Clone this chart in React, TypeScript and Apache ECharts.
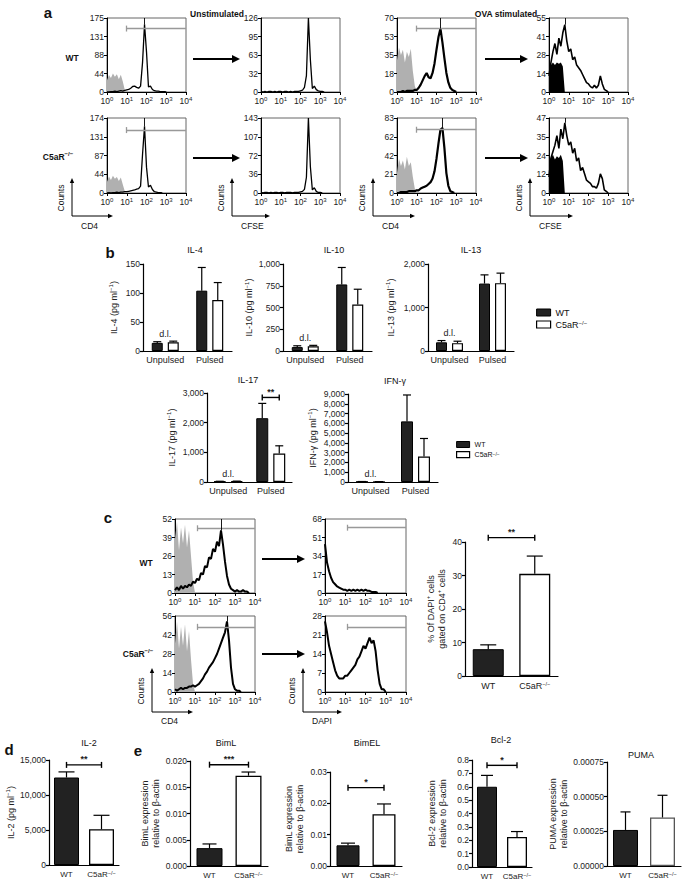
import React, { useEffect, useRef } from 'react';
import * as echarts from 'echarts';

const FONT = '"Liberation Sans", Arial, Helvetica, sans-serif';
const KO = 'C5aR−/−';

// ---------------- Flow histograms (x in decades: 10^0 .. 10^4) ----------------
const histX = [0, 0.1, 0.2, 0.3, 0.4, 0.5, 0.6, 0.7, 0.8, 0.9, 1, 1.1, 1.2, 1.3, 1.4, 1.5, 1.6, 1.7, 1.8, 1.9, 2, 2.1, 2.2, 2.3, 2.4, 2.5, 2.6, 2.7, 2.8, 2.9, 3, 3.1, 3.2, 3.3, 3.4, 3.5, 3.6, 3.7, 3.8, 3.9, 4];
const decadeExp = ['0', '1', '2', '3', '4'];

// panel a – y-axis maxima (tick labels = max/4 steps)
const aMaxRow1 = [175, 126, 70, 55];
const aMaxRow2 = [174, 143, 83, 47];

const a11Iso = [28, 40, 33, 44, 36, 42, 30, 41, 25, 5, 0];
const a11CD4 = [0, 0, 1, 1, 2, 1, 2, 3, 2, 4, 5, 6, 9, 13, 14, 11, 9, 14, 70, 160, 95, 12, 14, 6, 3, 2, 2, 1, 1, 1, 0];
const a12CFSE = [1, 0, 1, 0, 1, 1, 0, 1, 0, 1, 1, 0, 1, 1, 0, 1, 0, 1, 1, 1, 2, 3, 8, 28, 126, 55, 6, 10, 4, 2, 1, 1, 0];
const a13Iso = [30, 42, 35, 40, 28, 38, 33, 41, 20, 6, 0];
const a13CD4 = [0, 0, 0, 1, 0, 1, 1, 1, 1, 2, 2, 4, 7, 11, 15, 18, 14, 13, 18, 27, 40, 52, 60, 47, 32, 18, 9, 4, 2, 1, 0];
const a14CFSE = [12, 22, 30, 36, 28, 40, 34, 44, 50, 38, 30, 32, 24, 26, 20, 18, 16, 13, 10, 7, 6, 4, 3, 5, 3, 5, 12, 6, 2, 1, 0];
const a14Dense = [18, 20, 22, 20, 22, 21, 22, 19, 0];

const a21Iso = [26, 38, 30, 40, 33, 37, 28, 36, 20, 4, 0];
const a21CD4 = [0, 1, 0, 1, 1, 2, 1, 2, 2, 3, 3, 4, 5, 6, 7, 9, 10, 16, 90, 155, 60, 14, 18, 8, 3, 2, 1, 1, 0];
const a22CFSE = [1, 0, 1, 1, 0, 1, 0, 1, 1, 0, 1, 1, 0, 1, 1, 1, 0, 1, 1, 1, 2, 3, 7, 30, 143, 50, 6, 10, 3, 1, 1, 0];
const a23Iso = [22, 38, 30, 36, 26, 40, 30, 34, 18, 5, 0];
const a23CD4 = [0, 0, 1, 1, 1, 1, 2, 2, 2, 2, 3, 3, 5, 6, 7, 8, 10, 12, 16, 24, 38, 55, 70, 72, 50, 22, 8, 2, 1, 0];
const a24CFSE = [10, 22, 26, 30, 36, 28, 40, 34, 44, 36, 30, 32, 25, 28, 20, 22, 14, 16, 12, 8, 7, 6, 4, 4, 3, 6, 12, 9, 2, 1, 0];
const a24Dense = [20, 22, 24, 21, 23, 22, 24, 20, 0];

// gates [start decade, level] and peak marker positions (decades)
const aGates = [[0.97, 150], [0.97, 146], [0.97, 60], [0.97, 70]];
const aPeakX = [1.9, 1.9, 2.2, 2.3, 0.8, 0.8];

// panel c
const cMaxRow1 = [52, 68];
const cMaxRow2 = [56, 28];
const c11Iso = [38, 50, 30, 46, 35, 48, 32, 44, 26, 8, 0];
const c11CD4 = [2, 4, 2, 5, 3, 5, 4, 6, 5, 8, 7, 10, 9, 14, 13, 19, 18, 25, 24, 31, 29, 36, 33, 44, 34, 22, 12, 6, 3, 2, 1, 2, 1, 1, 2, 1, 1, 0];
const c12DAPI = [45, 28, 20, 14, 10, 8, 6, 5, 4, 3, 3, 2, 3, 2, 3, 2, 3, 2, 3, 2, 3, 2, 2, 1, 1, 1, 0];
const c21Iso = [36, 52, 32, 48, 34, 50, 30, 45, 24, 6, 0];
const c21CD4 = [2, 1, 2, 3, 2, 3, 3, 4, 4, 5, 4, 5, 6, 8, 10, 13, 15, 18, 20, 22, 25, 28, 32, 36, 40, 44, 52, 38, 18, 6, 2, 1, 1, 0];
const c22DAPI = [26, 22, 17, 14, 11, 8, 6, 5, 5, 5, 6, 6, 7, 8, 9, 10, 12, 13, 15, 17, 16, 18, 20, 18, 19, 15, 8, 3, 1, 1, 0];
const cGates = [[1.1, 45.5], [1.1, 60], [1.1, 48], [1.1, 24]];
const cPeakX = [2.3, 2.6];

// ---------------- Bar data ----------------
const pulseCats = ['Unpulsed', 'Pulsed'];
const il4WT = [14, 104], il4WTErr = [16, 144], il4KO = [15, 88], il4KOErr = [17, 118];
const il10WT = [45, 765], il10WTErr = [60, 960], il10KO = [55, 535], il10KOErr = [65, 710];
const il13WT = [200, 1550], il13WTErr = [240, 1750], il13KO = [180, 1560], il13KOErr = [225, 1790];
const il17WT = [20, 2150], il17WTErr = [25, 2650], il17KO = [25, 960], il17KOErr = [30, 1220];
const ifnWT = [40, 6200], ifnWTErr = [50, 8900], ifnKO = [30, 2600], ifnKOErr = [40, 4450];
const il17Sig = [2850, '**'];

const genoCats = ['WT', KO];
const dapiPct = [8, 30.5], dapiErr = [9.3, 35.8], dapiSig = [41.3, '**'];
const il2 = [12500, 5100], il2Err = [13300, 7100], il2Sig = [14300, '**'];
const bimL = [0.0034, 0.0172], bimLErr = [0.0042, 0.0179], bimLSig = [0.0193, '***'];
const bimEL = [0.0066, 0.0165], bimELErr = [0.0073, 0.0198], bimELSig = [0.025, '*'];
const bcl2 = [0.6, 0.225], bcl2Err = [0.685, 0.265], bcl2Sig = [0.76, '*'];
const puma = [0.00026, 0.00035], pumaErr = [0.00039, 0.00051];

// ---------------- helpers ----------------
const sup = (extra: any = {}) => ({ s: { fontSize: 6, fontFamily: FONT, verticalAlign: 'top', color: '#222', ...extra } });
const comma = (v: number) => Math.round(v).toString().replace(/\B(?=(\d{3})+(?!\d))/g, ',');
const koFmt = (v: string) => (v === KO ? 'C5aR{s|−/−}' : v);

function buildOption() {
  const grid: any[] = [], xAxis: any[] = [], yAxis: any[] = [], series: any[] = [];

  const addGrid = (g: any, show = false) => {
    grid.push({ left: g.left, top: g.top, width: g.width, height: g.height, show, borderColor: '#666', borderWidth: 1, backgroundColor: 'rgba(0,0,0,0)' });
    return grid.length - 1;
  };

  const hist = (h: any) => {
    const gi = addGrid(h, true);
    xAxis.push({
      gridIndex: gi, type: 'value', min: 0, max: 4, interval: 1,
      axisLine: { show: true, onZero: false, lineStyle: { color: '#000', width: 1 } },
      axisTick: { show: true, length: 3, lineStyle: { color: '#000' } },
      splitLine: { show: false },
      axisLabel: { fontFamily: FONT, fontSize: 8.5, color: '#222', margin: 4, formatter: (v: number) => '10{s|' + decadeExp[Math.round(v)] + '}', rich: sup() },
    });
    yAxis.push({
      gridIndex: gi, type: 'value', min: 0, max: h.max, interval: h.max / 4,
      axisLine: { show: true, lineStyle: { color: '#000', width: 1 } },
      axisTick: { show: true, length: 3, lineStyle: { color: '#000' } },
      splitLine: { show: false },
      axisLabel: { fontFamily: FONT, fontSize: 8.5, color: '#222', margin: 3, formatter: (v: number) => String(Math.round(v)) },
    });
    const pts = (arr: number[]) => arr.map((y, i) => [histX[i], y]);
    if (h.iso) series.push({ type: 'line', xAxisIndex: gi, yAxisIndex: gi, data: pts(h.iso), symbol: 'none', silent: true, z: 1, lineStyle: { width: 0 }, itemStyle: { color: '#b0b0b0' }, areaStyle: { color: '#b0b0b0', opacity: 1 } });
    if (h.dense) series.push({ type: 'line', xAxisIndex: gi, yAxisIndex: gi, data: pts(h.dense), symbol: 'none', silent: true, z: 2, lineStyle: { width: 0 }, itemStyle: { color: '#000' }, areaStyle: { color: '#000', opacity: 1 } });
    const md: any[] = [];
    if (h.gate) {
      const [gx, gy] = h.gate; const d = h.max * 0.04;
      md.push([{ coord: [gx, gy], lineStyle: { color: '#999', width: 1.3, type: 'solid' } }, { coord: [4, gy] }]);
      md.push([{ coord: [gx, gy - d], lineStyle: { color: '#999', width: 1.3, type: 'solid' } }, { coord: [gx, gy + d] }]);
    }
    if (h.peakX !== undefined) {
      const py = h.line[Math.round(h.peakX * 10)];
      md.push([{ coord: [h.peakX, py], lineStyle: { color: '#000', width: 0.9, type: 'solid' } }, { coord: [h.peakX, h.max] }]);
    }
    series.push({
      type: 'line', xAxisIndex: gi, yAxisIndex: gi, data: pts(h.line), symbol: 'none', silent: true, z: 3,
      lineStyle: { color: '#000', width: h.lw || 1.3 }, itemStyle: { color: '#000' },
      markLine: md.length ? { silent: true, symbol: ['none', 'none'], label: { show: false }, lineStyle: { type: 'solid' }, data: md } : undefined,
    });
  };

  const valueAxis = (gi: number, b: any) => ({
    gridIndex: gi, type: 'value', min: 0, max: b.max, interval: b.interval,
    axisLine: { show: true, lineStyle: { color: '#000', width: 1.2 } },
    axisTick: { show: true, length: 3, lineStyle: { color: '#000', width: 1.2 } },
    splitLine: { show: false },
    axisLabel: { fontFamily: FONT, fontSize: 8.5, color: '#222', margin: 3, formatter: b.fmt },
    name: b.yName, nameLocation: 'middle', nameRotate: 90, nameGap: b.nameGap,
    nameTextStyle: { fontFamily: FONT, fontSize: 9, color: '#222', lineHeight: 11, rich: sup() },
  });

  const errSeries = (gi: number, data: any[], offset: number, cap: number) => ({
    type: 'custom', xAxisIndex: gi, yAxisIndex: gi, silent: true, z: 5, data, encode: { x: 0, y: [1, 2] },
    renderItem: (_p: any, api: any) => {
      const c = api.value(0);
      const base = api.coord([c, api.value(1)]);
      const top = api.coord([c, api.value(2)]);
      const x = base[0] + offset;
      return {
        type: 'group', children: [
          { type: 'line', shape: { x1: x, y1: base[1], x2: x, y2: top[1] }, style: { stroke: '#000', lineWidth: 1.2 } },
          { type: 'line', shape: { x1: x - cap, y1: top[1], x2: x + cap, y2: top[1] }, style: { stroke: '#000', lineWidth: 1.2 } },
        ],
      };
    },
  });

  const textSeries = (gi: number, data: any[], text: string, size: number) => ({
    type: 'custom', xAxisIndex: gi, yAxisIndex: gi, silent: true, z: 6, data, encode: { x: 0, y: 1 },
    renderItem: (_p: any, api: any) => {
      const p = api.coord([api.value(0), api.value(1)]);
      return { type: 'text', x: p[0], y: p[1] - 3, style: { text, fontFamily: FONT, fontSize: size, fill: '#222', align: 'center', verticalAlign: 'bottom' } };
    },
  });

  const bracketSeries = (gi: number, data: any[], offA: number, offB: number, text: string) => ({
    type: 'custom', xAxisIndex: gi, yAxisIndex: gi, silent: true, z: 6, data, encode: { x: 0, y: 1 },
    renderItem: (_p: any, api: any) => {
      const pa = api.coord([api.value(0), api.value(1)]);
      const pb = api.coord([api.value(2), api.value(1)]);
      const xa = pa[0] + offA, xb = pb[0] + offB, y = pa[1];
      const st = { stroke: '#000', lineWidth: 1.4 };
      return {
        type: 'group', children: [
          { type: 'line', shape: { x1: xa, y1: y, x2: xb, y2: y }, style: st },
          { type: 'line', shape: { x1: xa, y1: y - 3, x2: xa, y2: y + 3 }, style: st },
          { type: 'line', shape: { x1: xb, y1: y - 3, x2: xb, y2: y + 3 }, style: st },
          { type: 'text', x: (xa + xb) / 2, y: y - 1, style: { text, fontFamily: FONT, fontSize: 9, fontWeight: 'bold', fill: '#222', align: 'center', verticalAlign: 'bottom' } },
        ],
      };
    },
  });

  const barGroup = (b: any) => {
    const gi = addGrid(b);
    xAxis.push({
      gridIndex: gi, type: 'category', data: pulseCats,
      axisLine: { lineStyle: { color: '#000', width: 1.2 } },
      axisTick: { alignWithLabel: true, interval: 0, length: 3, lineStyle: { color: '#000', width: 1.2 } },
      axisLabel: { interval: 0, hideOverlap: false, fontFamily: FONT, fontSize: 9, color: '#222', margin: 4 },
    });
    yAxis.push(valueAxis(gi, b));
    const pct = (b.gap / b.bw) * 100 + '%';
    const off = (b.bw + b.gap) / 2;
    series.push({ type: 'bar', name: 'WT', xAxisIndex: gi, yAxisIndex: gi, data: b.wt, barWidth: b.bw, barGap: pct, silent: true, z: 2, itemStyle: { color: '#222', borderColor: '#000', borderWidth: 1 } });
    series.push({ type: 'bar', name: KO, xAxisIndex: gi, yAxisIndex: gi, data: b.ko, barWidth: b.bw, barGap: pct, silent: true, z: 2, itemStyle: { color: '#fff', borderColor: '#000', borderWidth: 1.2 } });
    series.push(errSeries(gi, b.wt.map((v: number, i: number) => [i, v, b.wtErr[i]]), -off, b.cap));
    series.push(errSeries(gi, b.ko.map((v: number, i: number) => [i, v, b.koErr[i]]), off, b.cap));
    series.push(textSeries(gi, [[0, Math.max(b.wtErr[0], b.koErr[0])]], 'd.l.', 9));
    if (b.sig) series.push(bracketSeries(gi, [[1, b.sig[0], 1]], -off, off, b.sig[1]));
  };

  const barSingle = (b: any) => {
    const gi = addGrid(b);
    xAxis.push({
      gridIndex: gi, type: 'category', data: genoCats,
      axisLine: { lineStyle: { color: '#000', width: 1.2 } },
      axisTick: { alignWithLabel: true, interval: 0, length: 3, lineStyle: { color: '#000', width: 1.2 } },
      axisLabel: { interval: 0, hideOverlap: false, fontFamily: FONT, fontSize: b.catSize || 8, color: '#222', margin: 5, formatter: koFmt, rich: sup({ fontSize: 5.5 }) },
    });
    yAxis.push(valueAxis(gi, b));
    series.push({
      type: 'bar', xAxisIndex: gi, yAxisIndex: gi, barWidth: b.bw, silent: true, z: 2,
      data: b.vals.map((v: number, i: number) => ({ value: v, itemStyle: i === 0 ? { color: '#222', borderColor: '#000', borderWidth: 1 } : { color: '#fff', borderColor: b.koBorder || '#000', borderWidth: 1.3 } })),
    });
    series.push(errSeries(gi, b.vals.map((v: number, i: number) => [i, v, b.errs[i]]), 0, b.cap));
    if (b.sig) series.push(bracketSeries(gi, [[0, b.sig[0], 1]], 0, 0, b.sig[1]));
  };

  // ---- panel a ----
  const aCols = [107, 261, 397, 549];
  const aRows = [[18, 74], [118, 75]];
  hist({ left: aCols[0], top: aRows[0][0], width: 79, height: aRows[0][1], max: aMaxRow1[0], iso: a11Iso, line: a11CD4, gate: aGates[0], peakX: aPeakX[0], lw: 1.3 });
  hist({ left: aCols[1], top: aRows[0][0], width: 79, height: aRows[0][1], max: aMaxRow1[1], line: a12CFSE, lw: 1.3 });
  hist({ left: aCols[2], top: aRows[0][0], width: 79, height: aRows[0][1], max: aMaxRow1[2], iso: a13Iso, line: a13CD4, gate: aGates[2], peakX: aPeakX[2], lw: 2.2 });
  hist({ left: aCols[3], top: aRows[0][0], width: 79, height: aRows[0][1], max: aMaxRow1[3], line: a14CFSE, dense: a14Dense, peakX: aPeakX[4], lw: 1.6 });
  hist({ left: aCols[0], top: aRows[1][0], width: 79, height: aRows[1][1], max: aMaxRow2[0], iso: a21Iso, line: a21CD4, gate: aGates[1], peakX: aPeakX[1], lw: 1.3 });
  hist({ left: aCols[1], top: aRows[1][0], width: 79, height: aRows[1][1], max: aMaxRow2[1], line: a22CFSE, lw: 1.3 });
  hist({ left: aCols[2], top: aRows[1][0], width: 79, height: aRows[1][1], max: aMaxRow2[2], iso: a23Iso, line: a23CD4, gate: aGates[3], peakX: aPeakX[3], lw: 2.2 });
  hist({ left: aCols[3], top: aRows[1][0], width: 79, height: aRows[1][1], max: aMaxRow2[3], line: a24CFSE, dense: a24Dense, peakX: aPeakX[5], lw: 1.6 });

  // ---- panel b ----
  barGroup({ left: 143, top: 264, width: 89, height: 87, max: 150, interval: 50, fmt: comma, yName: 'IL-4 (pg ml{s|−1})', nameGap: 24, wt: il4WT, wtErr: il4WTErr, ko: il4KO, koErr: il4KOErr, bw: 11, gap: 5, cap: 4 });
  barGroup({ left: 283, top: 264, width: 89, height: 87, max: 1000, interval: 250, fmt: comma, yName: 'IL-10 (pg ml{s|−1})', nameGap: 24, wt: il10WT, wtErr: il10WTErr, ko: il10KO, koErr: il10KOErr, bw: 11, gap: 5, cap: 4 });
  barGroup({ left: 428, top: 264, width: 86, height: 87, max: 2000, interval: 1000, fmt: comma, yName: 'IL-13 (pg ml{s|−1})', nameGap: 32, wt: il13WT, wtErr: il13WTErr, ko: il13KO, koErr: il13KOErr, bw: 11, gap: 5, cap: 4 });
  barGroup({ left: 207, top: 393, width: 85, height: 89, max: 3000, interval: 1000, fmt: comma, yName: 'IL-17 (pg ml{s|−1})', nameGap: 30, wt: il17WT, wtErr: il17WTErr, ko: il17KO, koErr: il17KOErr, bw: 12, gap: 5, cap: 4, sig: il17Sig });
  barGroup({ left: 348, top: 394, width: 90, height: 88, max: 9000, interval: 1000, fmt: comma, yName: 'IFN-γ (pg ml{s|−1})', nameGap: 30, wt: ifnWT, wtErr: ifnWTErr, ko: ifnKO, koErr: ifnKOErr, bw: 12, gap: 5, cap: 4 });

  // ---- panel c ----
  const cCols = [175, 325];
  const cRows = [[519, 74], [616, 76]];
  hist({ left: cCols[0], top: cRows[0][0], width: 80, height: cRows[0][1], max: cMaxRow1[0], iso: c11Iso, line: c11CD4, gate: cGates[0], peakX: cPeakX[0], lw: 2 });
  hist({ left: cCols[1], top: cRows[0][0], width: 81, height: cRows[0][1], max: cMaxRow1[1], line: c12DAPI, gate: cGates[1], lw: 2 });
  hist({ left: cCols[0], top: cRows[1][0], width: 80, height: cRows[1][1], max: cMaxRow2[0], iso: c21Iso, line: c21CD4, gate: cGates[2], peakX: cPeakX[1], lw: 2 });
  hist({ left: cCols[1], top: cRows[1][0], width: 81, height: cRows[1][1], max: cMaxRow2[1], line: c22DAPI, gate: cGates[3], lw: 2 });
  barSingle({ left: 465, top: 542, width: 93, height: 134, max: 40, interval: 10, fmt: comma, yName: '% Of DAPI{s|+} cells\ngated on CD4{s|+} cells', nameGap: 18, vals: dapiPct, errs: dapiErr, bw: 31, cap: 8, sig: dapiSig, catSize: 9 });

  // ---- panel d ----
  barSingle({ left: 49, top: 760, width: 70, height: 105, max: 15000, interval: 5000, fmt: comma, yName: 'IL-2 (pg ml{s|−1})', nameGap: 31, vals: il2, errs: il2Err, bw: 25, cap: 8, sig: il2Sig });

  // ---- panel e ----
  barSingle({ left: 190, top: 761, width: 78, height: 105, max: 0.02, interval: 0.005, fmt: (v: number) => v.toFixed(3), yName: 'BimL expression\nrelative to β-actin', nameGap: 24, vals: bimL, errs: bimLErr, bw: 26, cap: 7, sig: bimLSig });
  barSingle({ left: 330, top: 772, width: 72, height: 94, max: 0.03, interval: 0.01, fmt: (v: number) => v.toFixed(2), yName: 'BimL expression\nrelative to β-actin', nameGap: 25, vals: bimEL, errs: bimELErr, bw: 23, cap: 7, sig: bimELSig });
  barSingle({ left: 472, top: 760, width: 60, height: 107, max: 0.8, interval: 0.1, fmt: (v: number) => v.toFixed(1), yName: 'Bcl-2 expression\nrelative to β-actin', nameGap: 24, vals: bcl2, errs: bcl2Err, bw: 20, cap: 6, sig: bcl2Sig });
  barSingle({ left: 607, top: 762, width: 74, height: 104, max: 0.00075, interval: 0.00025, fmt: (v: number) => v.toFixed(5), yName: 'PUMA expression\nrelative to β-actin', nameGap: 37, vals: puma, errs: pumaErr, bw: 25, cap: 5, koBorder: '#555' });

  // ---------------- free graphics: texts & arrows ----------------
  const G: any[] = [];
  const txt = (x: number, y: number, text: string, o: any = {}) =>
    G.push({
      type: 'text', x, y, rotation: o.rot || 0, silent: true, z: 10,
      style: { text, fontFamily: FONT, fontSize: o.size || 9, fontWeight: o.bold ? 'bold' : 'normal', fill: '#111', align: o.align || 'center', verticalAlign: 'middle', lineHeight: 12, rich: sup({ fontWeight: o.bold ? 'bold' : 'normal', color: '#111' }) },
    });
  const arrowH = (x1: number, x2: number, y: number, lw: number, hl: number, hw: number) => {
    G.push({ type: 'line', silent: true, shape: { x1, y1: y, x2: x2 - hl + 1, y2: y }, style: { stroke: '#000', lineWidth: lw } });
    G.push({ type: 'polygon', silent: true, shape: { points: [[x2, y], [x2 - hl, y - hw], [x2 - hl, y + hw]] }, style: { fill: '#000' } });
  };
  const arrowUp = (x: number, y1: number, y2: number, lw: number, hl: number, hw: number) => {
    G.push({ type: 'line', silent: true, shape: { x1: x, y1, x2: x, y2: y2 + hl - 1 }, style: { stroke: '#000', lineWidth: lw } });
    G.push({ type: 'polygon', silent: true, shape: { points: [[x, y2], [x - hw, y2 + hl], [x + hw, y2 + hl]] }, style: { fill: '#000' } });
  };
  const countsAxes = (x: number, yb: number, yt: number, xr: number, label: string, ly: number) => {
    arrowUp(x, yb, yt, 1, 5, 2.2);
    arrowH(x, xr, yb, 1, 5, 2.2);
    txt(x - 11, (yb + yt) / 2 + 1, 'Counts', { rot: Math.PI / 2, size: 8.5 });
    txt(x + 9, ly, label, { align: 'left', size: 8.5 });
  };

  // panel a
  txt(48, 12, 'a', { bold: true, size: 15 });
  txt(217, 14, 'Unstimulated', { bold: true, size: 8.5 });
  txt(506, 14, 'OVA stimulated', { bold: true, size: 8.5 });
  txt(72, 58, 'WT', { bold: true, size: 8.5 });
  txt(58, 157, 'C5aR{s|−/−}', { bold: true, size: 8.5 });
  arrowH(193, 240, 59, 2, 8, 4);
  arrowH(193, 240, 158, 2, 8, 4);
  arrowH(485, 528, 59, 2, 8, 4);
  arrowH(485, 528, 158, 2, 8, 4);
  countsAxes(72, 216, 178, 113, 'CD4', 226);
  countsAxes(232, 216, 178, 270, 'CFSE', 226);
  countsAxes(373, 216, 178, 415, 'CD4', 226);
  countsAxes(530, 216, 178, 573, 'CFSE', 226);

  // panel b
  txt(110, 252, 'b', { bold: true, size: 15 });
  txt(195, 250, 'IL-4');
  txt(334, 250, 'IL-10');
  txt(471, 250, 'IL-13');
  txt(248, 380, 'IL-17');
  txt(395, 381, 'IFN-γ');

  // panel c
  txt(108, 517, 'c', { bold: true, size: 15 });
  txt(146, 563, 'WT', { bold: true, size: 8.5 });
  txt(138, 654, 'C5aR{s|−/−}', { bold: true, size: 8.5 });
  arrowH(262, 305, 559, 2, 8, 4);
  arrowH(262, 305, 654, 2, 8, 4);
  countsAxes(152, 712, 668, 193, 'CD4', 721);
  countsAxes(303, 712, 668, 342, 'DAPI', 721);

  // panels d, e
  txt(9, 749, 'd', { bold: true, size: 15 });
  txt(89, 743, 'IL-2');
  txt(138, 750, 'e', { bold: true, size: 15 });
  txt(226, 743, 'BimL');
  txt(367, 743, 'BimEL');
  txt(501, 740, 'Bcl-2');
  txt(641, 755, 'PUMA');

  const legendData = [
    { name: 'WT', icon: 'rect', itemStyle: { color: '#222', borderColor: '#000', borderWidth: 1 } },
    { name: KO, icon: 'rect', itemStyle: { color: '#fff', borderColor: '#000', borderWidth: 1.2 } },
  ];

  return {
    animation: false,
    backgroundColor: '#fff',
    grid, xAxis, yAxis, series,
    legend: [
      { left: 531, top: 303, orient: 'vertical', itemWidth: 14, itemHeight: 7, itemGap: 3, selectedMode: false, data: legendData, formatter: koFmt, textStyle: { fontFamily: FONT, fontSize: 9, color: '#111', rich: sup() } },
      { left: 451, top: 436, orient: 'vertical', itemWidth: 13, itemHeight: 6, itemGap: 3, selectedMode: false, data: legendData, formatter: koFmt, textStyle: { fontFamily: FONT, fontSize: 7, color: '#111', rich: sup({ fontSize: 5 }) } },
    ],
    graphic: G,
  };
}

export default function App() {
  const ref = useRef<HTMLDivElement>(null);
  useEffect(() => {
    const chart = echarts.init(ref.current as HTMLDivElement, null, { renderer: 'svg' });
    chart.setOption(buildOption() as any);
    return () => chart.dispose();
  }, []);
  return <div ref={ref} style={{ position: 'absolute', left: 0, top: 0, width: 685, height: 883, background: '#fff' }} />;
}
